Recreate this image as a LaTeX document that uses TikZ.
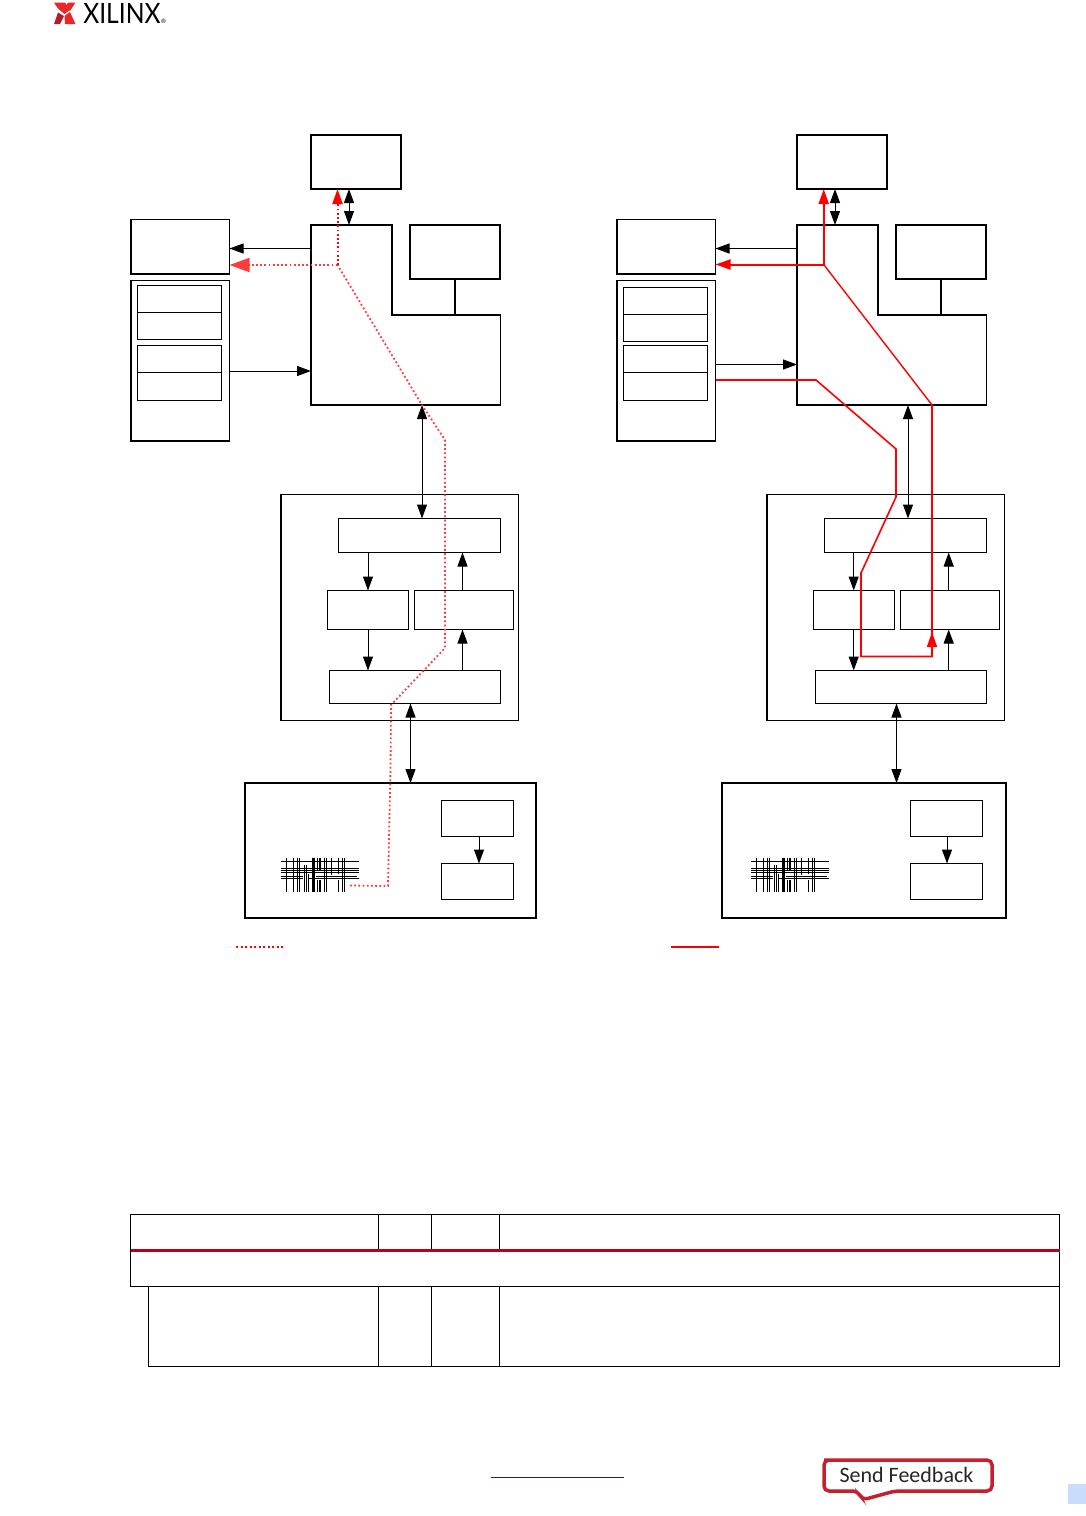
\documentclass[tikz,border=0pt]{standalone}
\usepackage{fontspec}
\newfontfamily\logofont{Lato}
\newfontfamily\feedbackfont{Carlito}
\usetikzlibrary{arrows.meta, positioning}
\definecolor{red1}{RGB}{255, 0, 0}
\definecolor{red2}{RGB}{255, 60, 60}
\definecolor{crimson1}{RGB}{181, 0, 30}
\definecolor{crimson2}{RGB}{196, 32, 46}
\definecolor{logored1}{RGB}{232, 40, 40}
\definecolor{logored2}{RGB}{176, 30, 45}
\definecolor{navy1}{RGB}{30, 30, 90}
\definecolor{pageblue}{RGB}{202, 220, 252}
\tikzset{
  blockbase/.style={rectangle, inner sep=0pt, outer sep=0pt},
  thickbox/.style={blockbase, draw, line width=1pt},
  midbox/.style={blockbase, draw, line width=0.75pt},
  thinbox/.style={blockbase, draw, line width=0.5pt},
  oneway/.style={line width=0.5pt, -{Triangle[length=7pt,width=5pt]}},
  twoway/.style={line width=0.5pt, {Triangle[length=7pt,width=5pt]}-{Triangle[length=7pt,width=5pt]}},
  flowdot/.style={red2, line width=0.9pt, dash pattern=on 0.9pt off 1.2pt},
  flowline/.style={red1, line width=0.7pt},
  gridmark/.pic={
    \foreach \yy in {3.7, 10.3, 12.3, 14.3} {
      \draw[line width=0.6pt] (0,\yy) -- (77.5,\yy);
    }
    \draw[line width=0.6pt] (0,18.7) -- (22,18.7) (35,18.7) -- (76,18.7);
    \draw[line width=0.6pt] (0,20.3) -- (22,20.3) (28,20.3) -- (77.5,20.3);
    \foreach \xx in {5.7, 12.3, 16.3, 18.3, 43.3, 45.3, 61.3, 63.3} {
      \draw[line width=0.6pt] (\xx,0) -- (\xx,33.5);
    }
    \foreach \xx in {23.3, 25.3} {
      \draw[line width=0.6pt] (\xx,7) -- (\xx,33.5);
    }
    \draw[line width=0.6pt] (27.3,16) -- (27.3,33.5);
    \draw[line width=1.5pt] (32.3,0) -- (32.3,33.5);
    \foreach \xx in {36.3, 39} {
      \draw[line width=0.6pt] (\xx,0) -- (\xx,12) (\xx,22) -- (\xx,33.5);
    }
    \draw[line width=0.6pt] (50.3,0) -- (50.3,16.5);
    \draw[line width=0.6pt] (57.3,0) -- (57.3,16) (57.3,22) -- (57.3,33.5);
  }
}

\begin{document}
\begin{tikzpicture}[x=0.5pt, y=-0.5pt]
  \useasboundingbox (0,0) rectangle (1086,1516);

  \fill[logored1] (54,2.5) -- (65,2.5) -- (70,10) -- (64.5,14) -- (58,8.5) -- cycle;
  \fill[logored1] (75.5,2.5) -- (68,2.5) -- (66,6) -- (70,11) -- cycle;
  \fill[logored2] (58,12.5) -- (64,16) -- (60,24) -- (54,24) -- cycle;
  \fill[logored1] (64.5,16) -- (70,12) -- (75.5,24) -- (65,24) -- cycle;
  \node[font=\logofont\fontsize{14}{14}\selectfont, inner sep=0pt, anchor=west, xscale=0.88] (logotext) at (83,13.5) {XILINX};
  \node[font=\logofont\fontsize{3}{3}\selectfont, inner sep=0pt] (logomark) at (163.5,21.5) {\textregistered};

  \node[thickbox, minimum width=45pt, minimum height=27pt] (ddrL) at (356,162) {};
  \node[blockbase, minimum width=94.75pt, minimum height=90pt] (psL) at (405.75,315) {};
  \draw[line width=0.7pt] (psL.north west) -- (392,225) -- (392,315) -- (500.5,315) -- (psL.south east) -- (psL.south west) -- cycle;
  \node[thickbox, minimum width=45pt, minimum height=27pt] (pmuL) at (455,252) {};
  \node[midbox, minimum width=49.25pt, minimum height=27.25pt] (ioL) at (180.25,246.75) {};
  \node[midbox, minimum width=49.25pt, minimum height=80.25pt] (memL) at (180.25,360.75) {};
  \node[thinbox, minimum width=42pt, minimum height=13.75pt] (regaL) at (179.5,298.75) {};
  \node[thinbox, minimum width=42pt, minimum height=13.5pt] (regbL) at (179.5,326) {};
  \node[thinbox, minimum width=42pt, minimum height=13.5pt] (regcL) at (179.5,359) {};
  \node[thinbox, minimum width=42pt, minimum height=14pt] (regdL) at (179.5,386.5) {};
  \node[midbox, minimum width=118.75pt, minimum height=113pt] (ctrlL) at (399.75,607.5) {};
  \node[thinbox, minimum width=81pt, minimum height=17pt] (hostL) at (419.5,535.5) {};
  \node[thinbox, minimum width=40.5pt, minimum height=19.5pt] (txL) at (368,610) {};
  \node[thinbox, minimum width=49.5pt, minimum height=19.5pt] (rxL) at (464,610) {};
  \node[thinbox, minimum width=85.5pt, minimum height=16.5pt] (phyL) at (415,687) {};
  \node[thickbox, minimum width=145.5pt, minimum height=67.25pt] (devL) at (390.5,850.25) {};
  \node[thinbox, minimum width=36pt, minimum height=18pt] (srcL) at (477.5,818.5) {};
  \node[thinbox, minimum width=36pt, minimum height=18pt] (dstL) at (477.5,881.5) {};
  \pic at (281,858) {gridmark};

  \node[thickbox, minimum width=45pt, minimum height=27pt] (ddrR) at (842,162) {};
  \node[blockbase, minimum width=94.75pt, minimum height=90pt] (psR) at (891.75,315) {};
  \draw[line width=0.7pt] (psR.north west) -- (878,225) -- (878,315) -- (986.5,315) -- (psR.south east) -- (psR.south west) -- cycle;
  \node[thickbox, minimum width=45pt, minimum height=27pt] (pmuR) at (941,252) {};
  \node[midbox, minimum width=49.25pt, minimum height=27.25pt] (ioR) at (666.25,246.75) {};
  \node[midbox, minimum width=49.25pt, minimum height=80.25pt] (memR) at (666.25,360.75) {};
  \node[thinbox, minimum width=42pt, minimum height=13.5pt] (regaR) at (665.5,300.5) {};
  \node[thinbox, minimum width=42pt, minimum height=13.75pt] (regbR) at (665.5,327.75) {};
  \node[thinbox, minimum width=42pt, minimum height=13.75pt] (regcR) at (665.5,358.75) {};
  \node[thinbox, minimum width=42pt, minimum height=14pt] (regdR) at (665.5,386.5) {};
  \node[midbox, minimum width=118.75pt, minimum height=113pt] (ctrlR) at (885.75,607.5) {};
  \node[thinbox, minimum width=81pt, minimum height=17pt] (hostR) at (905.5,535.5) {};
  \node[thinbox, minimum width=40.5pt, minimum height=19.5pt] (txR) at (854,610) {};
  \node[thinbox, minimum width=49.5pt, minimum height=19.5pt] (rxR) at (950,610) {};
  \node[thinbox, minimum width=85.5pt, minimum height=16.5pt] (phyR) at (901,687) {};
  \node[thickbox, minimum width=142pt, minimum height=67.25pt] (devR) at (864,850.25) {};
  \node[thinbox, minimum width=36pt, minimum height=18pt] (srcR) at (946.5,818.5) {};
  \node[thinbox, minimum width=36pt, minimum height=18pt] (dstR) at (946.5,881.5) {};
  \pic at (751,858) {gridmark};

  \coordinate (tapaL) at (349,248.5);
  \coordinate (tapbL) at (422,371);
  \coordinate (tapcL) at (368,600);
  \coordinate (tapdL) at (462.5,600);
  \coordinate (tapeL) at (410.5,750);
  \draw[twoway] (ddrL.south -| tapaL) -- (psL.north -| tapaL);
  \draw[oneway] (psL.west |- tapaL) -- (ioL.east |- tapaL);
  \draw[oneway] (memL.east |- tapbL) -- (psL.west |- tapbL);
  \draw[line width=0.85pt] (pmuL.south) -- (pmuL.south |- psL);
  \draw[twoway] (psL.south -| tapbL) -- (hostL.north -| tapbL);
  \draw[oneway] (hostL.south -| tapcL) -- (txL.north -| tapcL);
  \draw[oneway] (txL.south -| tapcL) -- (phyL.north -| tapcL);
  \draw[oneway] (phyL.north -| tapdL) -- (rxL.south -| tapdL);
  \draw[oneway] (rxL.north -| tapdL) -- (hostL.south -| tapdL);
  \draw[twoway] (phyL.south -| tapeL) -- (devL.north -| tapeL);

  \coordinate (tapaR) at (835,248.5);
  \coordinate (tapbR) at (908,364.5);
  \coordinate (tapcR) at (853.7,600);
  \coordinate (tapdR) at (948.7,600);
  \coordinate (tapeR) at (896.5,750);
  \draw[twoway] (ddrR.south -| tapaR) -- (psR.north -| tapaR);
  \draw[oneway] (psR.west |- tapaR) -- (ioR.east |- tapaR);
  \draw[oneway] (memR.east |- tapbR) -- (psR.west |- tapbR);
  \draw[line width=0.85pt] (pmuR.south) -- (pmuR.south |- psR);
  \draw[twoway] (psR.south -| tapbR) -- (hostR.north -| tapbR);
  \draw[oneway] (hostR.south -| tapcR) -- (txR.north -| tapcR);
  \draw[oneway] (txR.south -| tapcR) -- (phyR.north -| tapcR);
  \draw[oneway] (phyR.north -| tapdR) -- (rxR.south -| tapdR);
  \draw[oneway] (rxR.north -| tapdR) -- (hostR.south -| tapdR);
  \draw[twoway] (phyR.south -| tapeR) -- (devR.north -| tapeR);

  \coordinate (srcarrowL) at (479,850);
  \coordinate (srcarrowR) at (947,850);
  \draw[oneway] (srcL.south -| srcarrowL) -- (dstL.north -| srcarrowL);
  \draw[oneway] (srcR.south -| srcarrowR) -- (dstR.north -| srcarrowR);

  \coordinate (forkL) at (337.5,265);
  \coordinate (forkR) at (823.7,264.5);
  \coordinate (startL) at (350,885.5);
  \draw[flowdot] (startL) -- (388,886) -- (390.5,770) -- (391,705) -- (445,648) -- (445,440) -- (422,405) -- (forkL);
  \draw[flowdot, -{Triangle[length=10pt,width=7pt]}] (forkL) -- (ioL.east |- forkL);
  \draw[flowdot, red1, line width=1pt, -{Triangle[length=7.5pt,width=5pt]}] (forkL) -- (ddrL.south -| forkL);

  \draw[flowline, line width=1pt, -{Triangle[length=7.5pt,width=5pt]}] (forkR) -- (ddrR.south -| forkR);
  \draw[flowline, line width=1pt, -{Triangle[length=7.5pt,width=5pt]}] (forkR) -- (ioR.east |- forkR);
  \coordinate (turnaR) at (932,405);
  \coordinate (turnbR) at (932,656.5);
  \coordinate (tipR) at (932,632);
  \draw[flowline] (forkR) -- (turnaR);
  \draw[flowline, line width=1pt] (turnaR) -- (turnbR);
  \draw[flowline, line width=0.8pt, -{Triangle[length=7.5pt,width=5pt]}] (memR.east |- 0,380) -- (816,380) -- (896,449) -- (896,497) -- (861,573) -- (861,656.5) -- (turnbR) -- (tipR);

  \coordinate (legdot) at (236,946.5);
  \coordinate (legdotend) at (283,946.5);
  \coordinate (legline) at (671,946.5);
  \coordinate (leglineend) at (719,946.5);
  \draw[red1, line width=1pt, dash pattern=on 1pt off 1.25pt] (legdot) -- (legdotend);
  \draw[red1, line width=1pt] (legline) -- (leglineend);

  \draw[line width=0.5pt] (130.7,1214.5) rectangle (1059.5,1286.5);
  \draw[line width=0.5pt] (148.5,1286.5) -- (148.5,1366.5) -- (1059.5,1366.5) -- (1059.5,1286.5);
  \foreach \xx in {378.5, 431.5, 499.5} {
    \draw[line width=0.5pt] (\xx,1214.5) -- (\xx,1250.5);
    \draw[line width=0.5pt] (\xx,1286.5) -- (\xx,1366.5);
  }
  \draw[crimson1, line width=1.6pt] (130.7,1250.5) -- (1059.5,1250.5);

  \draw[navy1, line width=0.5pt] (491,1477) -- (624,1477);

  \draw[crimson2, line width=1.75pt, rounded corners=2.5pt, fill=white] (829,1460) -- (992,1460) -- (992,1491) -- (895,1491) -- (862,1500) -- (858,1491) -- (824,1491) -- (824,1460) -- cycle;
  \node[font=\feedbackfont\fontsize{11}{11}\selectfont, inner sep=0pt, text=black!85] (feedback) at (906.5,1475) {Send Feedback};

  \fill[pageblue] (1068,1484) rectangle (1086,1504);
\end{tikzpicture}
\end{document}
